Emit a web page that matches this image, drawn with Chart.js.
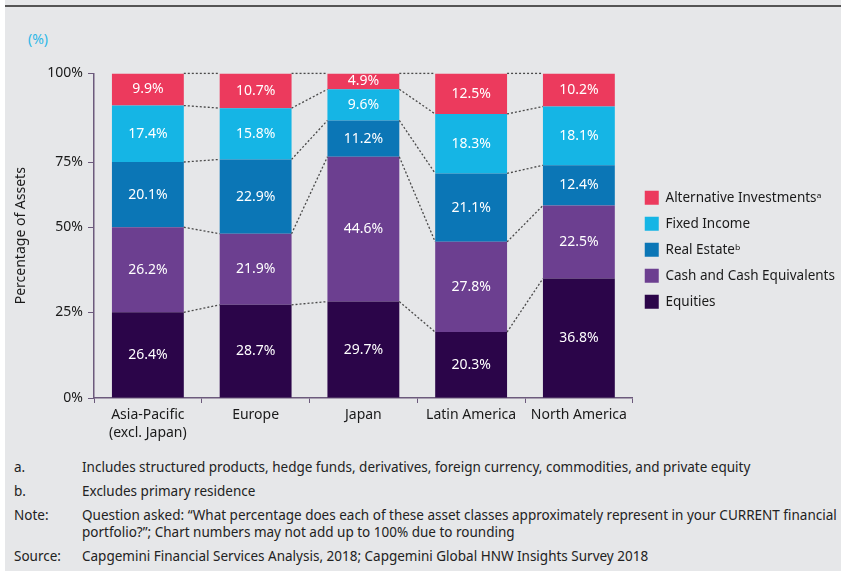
<!DOCTYPE html>
<html><head><meta charset="utf-8">
<script src="https://cdn.jsdelivr.net/npm/chart.js@4.4.1/dist/chart.umd.min.js"></script>
<style>
html,body{margin:0;padding:0;}
body{width:841px;height:571px;background:#e6e7e9;position:relative;overflow:hidden;font-family:"Noto Sans",sans-serif;}
#strip{position:absolute;left:0;top:0;width:5px;height:571px;background:#fff;}
#rule{position:absolute;left:5px;right:0;top:5px;height:2px;background:#555;}
#unit{position:absolute;left:28px;top:29px;font-size:14px;color:#2db7e7;}
#wrap{position:absolute;left:0;top:60px;width:841px;height:390px;}
.fn{position:absolute;font-size:13.5px;color:#222;white-space:nowrap;line-height:17px;}
</style></head>
<body>
<div id="strip"></div>
<div id="rule"></div>
<div id="unit">(%)</div>
<div id="wrap"><canvas id="c"></canvas></div>
<div class="fn" style="left:14px;top:459px">a.</div>
<div class="fn" style="left:82px;top:459px">Includes structured products, hedge funds, derivatives, foreign currency, commodities, and private equity</div>
<div class="fn" style="left:14px;top:483px">b.</div>
<div class="fn" style="left:82px;top:483px">Excludes primary residence</div>
<div class="fn" style="left:14px;top:507px">Note:</div>
<div class="fn" style="left:82px;top:507px">Question asked: “What percentage does each of these asset classes approximately represent in your CURRENT financial<br>portfolio?”; Chart numbers may not add up to 100% due to rounding</div>
<div class="fn" style="left:14px;top:548px">Source:</div>
<div class="fn" style="left:82px;top:548px">Capgemini Financial Services Analysis, 2018; Capgemini Global HNW Insights Survey 2018</div>
<script>
const categories = [["Asia-Pacific","(excl. Japan)"],"Europe","Japan","Latin America","North America"];
const equities    = [26.4, 28.7, 29.7, 20.3, 36.8];
const cash        = [26.2, 21.9, 44.6, 27.8, 22.5];
const realEstate  = [20.1, 22.9, 11.2, 21.1, 12.4];
const fixedIncome = [17.4, 15.8,  9.6, 18.3, 18.1];
const alternative = [ 9.9, 10.7,  4.9, 12.5, 10.2];
const seriesNames = ["Equities","Cash and Cash Equivalents","Real Estate\u1D47","Fixed Income","Alternative Investments\u1D43"];
const seriesColors = ["#2b0549","#6c3f90","#0b76b6","#15b5e5","#ec3a5d"];
// The reference places its y tick marks at the Asia-Pacific segment boundaries
const tickValues = [0, 26.4, 52.6, 72.7, 100];
const tickLabels = ["0%","25%","50%","75%","100%"];

const FONT = '"Noto Sans", sans-serif';
const AXIS = '#6c5a7c';

const connectors = {
  id:'connectors',
  afterDatasetsDraw(chart){
    const ctx = chart.ctx;
    ctx.save();
    ctx.strokeStyle = '#4a4a4a'; ctx.lineWidth = 1.3; ctx.setLineDash([2,2]);
    chart.data.datasets.forEach((ds,d)=>{
      const meta = chart.getDatasetMeta(d);
      for(let i=0;i<meta.data.length-1;i++){
        const a = meta.data[i], b = meta.data[i+1];
        ctx.beginPath();
        ctx.moveTo(a.x + a.width/2, a.y);
        ctx.lineTo(b.x - b.width/2, b.y);
        ctx.stroke();
      }
    });
    ctx.restore();
  }
};
const valueLabels = {
  id:'valueLabels',
  afterDatasetsDraw(chart){
    const ctx = chart.ctx;
    ctx.save();
    ctx.fillStyle = '#fff'; ctx.font = '14px ' + FONT;
    ctx.textAlign = 'center'; ctx.textBaseline = 'middle';
    chart.data.datasets.forEach((ds,d)=>{
      const meta = chart.getDatasetMeta(d);
      meta.data.forEach((el,i)=>{
        ctx.fillText(ds.data[i].toFixed(1) + '%', el.x, (el.y + el.base)/2);
      });
    });
    ctx.restore();
  }
};

const seriesData = [equities, cash, realEstate, fixedIncome, alternative];
new Chart(document.getElementById('c'), {
  type:'bar',
  data:{
    labels: categories,
    datasets: seriesData.map((arr,k)=>({
      label: seriesNames[k], data: arr, backgroundColor: seriesColors[k],
      borderWidth:0, categoryPercentage:1, barPercentage:0.667
    }))
  },
  options:{
    responsive:true, maintainAspectRatio:false, animation:false,
    layout:{padding:{left:8, top:12, right:0, bottom:6}},
    plugins:{
      tooltip:{enabled:false},
      legend:{position:'right', reverse:true, align:'center', fullSize:false,
        title:{display:true, text:'', font:{size:10, lineHeight:1}, padding:{top:9, bottom:9}},
        labels:{boxWidth:14, boxHeight:14, padding:12, color:'#1a1a1a', font:{size:13.5, family:FONT}}}
    },
    scales:{
      x:{stacked:true,
        grid:{display:true, offset:true, drawOnChartArea:false, drawTicks:true, tickLength:5, color:AXIS, lineWidth:1},
        border:{display:true, color:AXIS, width:1.5},
        ticks:{color:'#1a1a1a', font:{size:14, family:FONT, lineHeight:1.3}, padding:3, maxRotation:0, autoSkip:false},
        afterFit(s){ s.height = 46; }
      },
      y:{stacked:true, min:0, max:100,
        afterBuildTicks(s){ s.ticks = tickValues.map(v=>({value:v})); },
        ticks:{callback:(v,i)=>tickLabels[i], color:'#1a1a1a', font:{size:14, family:FONT}, padding:5},
        grid:{drawOnChartArea:false, tickLength:6, color:AXIS},
        border:{color:AXIS, width:1.5},
        title:{display:true, text:'Percentage of Assets', color:'#1a1a1a', font:{size:14, family:FONT}, padding:{top:5, bottom:0}},
        afterFit(s){ s.width = 86; }
      }
    }
  },
  plugins:[connectors, valueLabels]
});
</script>
</body></html>
